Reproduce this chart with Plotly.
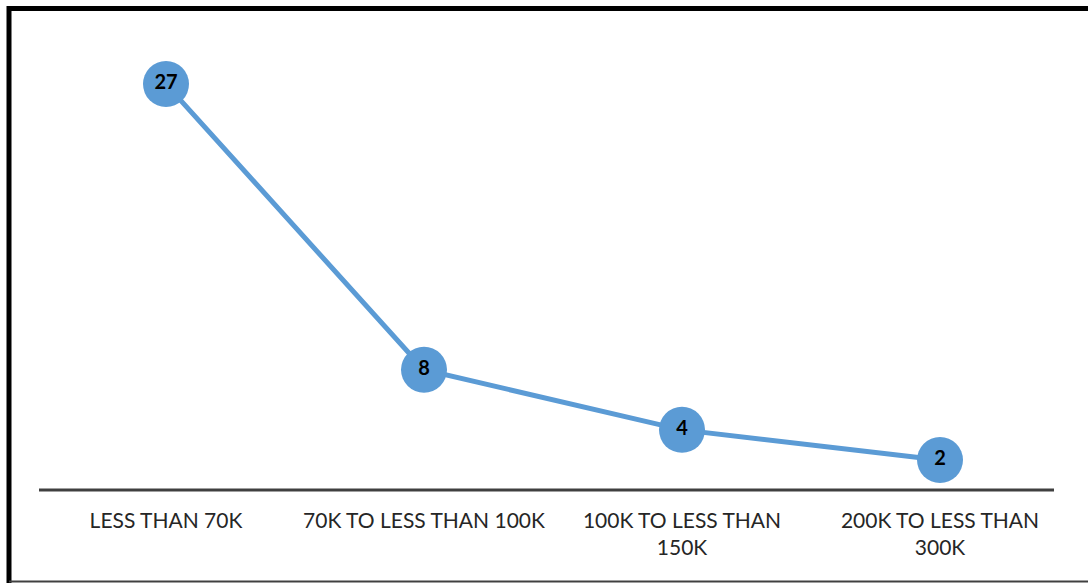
import plotly.graph_objects as go

categories = ["LESS THAN 70K", "70K TO LESS THAN 100K", "100K TO LESS THAN<br>150K", "200K TO LESS THAN<br>300K"]
values = [27, 8, 4, 2]

W, H = 1088, 583
L, R, T, B = 37, 19, 39, 93
pw, ph = W - L - R, H - T - B

def px(x):
    return (x - L) / pw

def py(y):
    return (H - B - y) / ph

fig = go.Figure()
fig.add_trace(go.Scatter(
    x=categories, y=values, mode="lines+markers+text",
    line=dict(color="#5B9BD5", width=5),
    marker=dict(color="#5B9BD5", size=46),
    text=[str(v) for v in values], textposition="middle center",
    textfont=dict(family="Lato", size=20, color="#000000", weight="bold"),
    cliponaxis=False, showlegend=False, hoverinfo="skip",
))

shapes = [
    # axis line
    dict(type="line", xref="paper", yref="paper", x0=px(39), x1=px(1054), y0=0, y1=0,
         line=dict(color="#404040", width=3), layer="below"),
    # frame
    dict(type="line", xref="paper", yref="paper", x0=px(9), x1=px(1088), y0=py(8.5), y1=py(8.5),
         line=dict(color="#000000", width=5)),
    dict(type="line", xref="paper", yref="paper", x0=px(9), x1=px(9), y0=py(6), y1=py(583),
         line=dict(color="#000000", width=5)),
    dict(type="line", xref="paper", yref="paper", x0=px(9), x1=px(1088), y0=py(581.5), y1=py(581.5),
         line=dict(color="#404040", width=2)),
]

fig.update_layout(
    width=W, height=H,
    margin=dict(l=L, r=R, t=T, b=B),
    paper_bgcolor="white", plot_bgcolor="white",
    shapes=shapes,
    xaxis=dict(showgrid=False, zeroline=False, showline=False, ticks="",
               tickfont=dict(family="Lato", size=21, color="#262626"),
               ticklabelstandoff=16, range=[-0.5, 3.5]),
    yaxis=dict(range=[0, 30], showgrid=False, zeroline=False, showticklabels=False, showline=False),
)

fig.write_html("out.html")
